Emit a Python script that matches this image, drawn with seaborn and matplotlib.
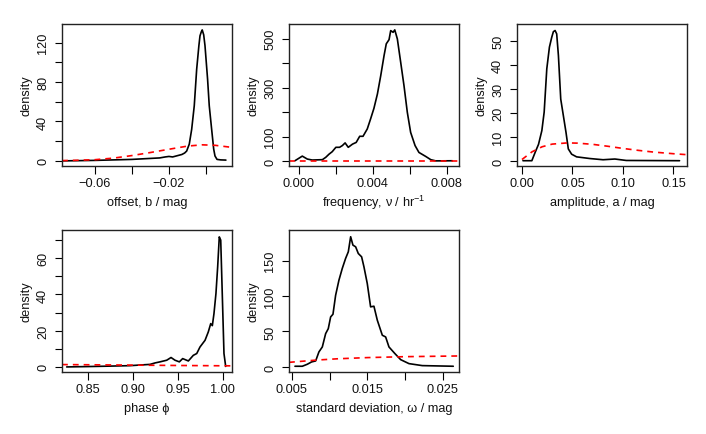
import numpy as np
import pandas as pd
import matplotlib
matplotlib.use("Agg")
import matplotlib.pyplot as plt
import seaborn as sns

# ---------------- data ----------------
# offset b
off_x = [-0.078, -0.07, -0.06, -0.05, -0.04, -0.035, -0.03, -0.025, -0.022, -0.02, -0.018,
         -0.015, -0.013, -0.0115, -0.0104, -0.009, -0.0077, -0.0063, -0.005, -0.0038,
         -0.0032, -0.0025, -0.002, -0.0012, -0.0005, 0.0009, 0.0018, 0.0031, 0.0042,
         0.0049, 0.006, 0.008, 0.0108]
off_y = [0, 0.2, 0.5, 1.0, 1.5, 2.0, 2.5, 3.0, 4.0, 4.5, 4.0, 5.5, 6.5, 8, 10, 17, 32, 56,
         93, 117, 127, 131, 133, 128, 117, 83, 56, 32, 12, 5, 1.5, 1.0, 0.8]
off_px = [-0.0778, -0.07, -0.06, -0.05, -0.04, -0.03, -0.02, -0.01, -0.002, 0.005, 0.0141]
off_py = [0.3, 0.6, 1.2, 2.8, 5.4, 8.5, 11.8, 15.0, 16.3, 15.8, 13.7]

# frequency nu
frq_x = [-0.00022, 0.00018, 0.00045, 0.00072, 0.00127, 0.00145, 0.00163, 0.0018, 0.002,
         0.0022, 0.00235, 0.0025, 0.00267, 0.0029, 0.0031, 0.00329, 0.00347, 0.0037,
         0.00388, 0.00406, 0.00425, 0.00443, 0.00461, 0.00473, 0.00488, 0.00497, 0.0051,
         0.00519, 0.00533, 0.00551, 0.00569, 0.00587, 0.00605, 0.00629, 0.0065, 0.00686,
         0.00714, 0.00741, 0.00831]
frq_y = [1, 20, 8, 4, 5.5, 15, 28, 38, 56, 56, 63, 74, 56, 69, 76, 101, 101, 131, 172, 215,
         274, 349, 431, 479, 496, 533, 526, 536, 499, 404, 308, 199, 117, 63, 35, 19, 5.5,
         0.5, 1]
frq_px = [-0.00054, 0.002, 0.004, 0.006, 0.00867]
frq_py = [1.2, 1.2, 1.2, 1.2, 1.2]

# amplitude a
amp_x = [0.001, 0.0098, 0.0131, 0.0164, 0.0197, 0.022, 0.0246, 0.0272, 0.0295, 0.0311,
         0.0328, 0.0344, 0.0361, 0.0384, 0.041, 0.0436, 0.0459, 0.0492, 0.0541, 0.0673,
         0.0803, 0.092, 0.1033, 0.156]
amp_y = [0.1, 0.1, 3.6, 6.9, 12.6, 20.3, 38.3, 47.3, 51.4, 53.7, 54.2, 52.8, 43.8, 25.7,
         18.8, 11.9, 5.0, 2.8, 1.7, 1.0, 0.5, 0.8, 0.2, 0.1]
amp_px = [0.0, 0.01, 0.02, 0.03, 0.045, 0.055, 0.07, 0.085, 0.1, 0.115, 0.13, 0.15, 0.1634]
amp_py = [0.6, 3.8, 5.9, 7.0, 7.5, 7.4, 6.9, 6.1, 5.2, 4.4, 3.7, 3.0, 2.6]

# phase phi
phs_x = [0.8268, 0.85, 0.87, 0.897, 0.9192, 0.9247, 0.9303, 0.9377, 0.9425, 0.9469,
         0.9517, 0.9554, 0.9617, 0.9672, 0.971, 0.9746, 0.9802, 0.9838, 0.9865, 0.9883,
         0.9901, 0.9923, 0.9942, 0.996, 0.9976, 0.9993, 1.0012, 1.0031]
phs_y = [0.0, 0.2, 0.4, 0.7, 1.4, 2.2, 2.8, 3.7, 5.2, 3.7, 2.8, 4.6, 3.3, 6.4, 7.4, 11,
         14.7, 19.3, 23.9, 22.8, 29.4, 40.5, 55.2, 71.8, 70, 40.5, 7.4, 0.3]
phs_px = [0.8216, 0.85, 0.9, 0.95, 1.0101]
phs_py = [1.3, 1.2, 1.0, 0.8, 0.6]

# standard deviation omega
sd_x = [0.00541, 0.00638, 0.00704, 0.00761, 0.00815, 0.00858, 0.00903, 0.00947, 0.00982,
        0.01013, 0.01044, 0.01079, 0.01123, 0.01167, 0.01211, 0.01247, 0.01278, 0.01308,
        0.01344, 0.01379, 0.01423, 0.01454, 0.01498, 0.01542, 0.01586, 0.01631, 0.01697,
        0.01741, 0.01785, 0.01864, 0.0194, 0.0205, 0.02226, 0.02636]
sd_y = [1, 1, 3.8, 7.1, 8.5, 21.2, 28.2, 47, 54, 70.5, 74.3, 101, 122.3, 138.8, 152.9,
        162.3, 183.5, 171.7, 169.3, 159.9, 155.2, 141.1, 117.5, 84.7, 85.6, 65.8, 44.7,
        42.3, 28.2, 18.8, 10.3, 4.7, 1.9, 1.0]
sd_px = [0.00462, 0.008, 0.011, 0.015, 0.02, 0.02712]
sd_py = [6.5, 9.5, 11.5, 13.2, 14.5, 15.5]

panels = [
    dict(px=off_x, py=off_y, qx=off_px, qy=off_py, xlabel="offset, b / mag",
         xlim=(-0.0778, 0.0141), ylim=(-5.2, 139),
         xt=[-0.06, -0.04, -0.02, 0.0], xtl=["\u22120.06", "", "\u22120.02", ""],
         yt=[0, 20, 40, 60, 80, 100, 120], ytl=["0", "", "40", "", "80", "", "120"],
         pos=(62, 25)),
    dict(px=frq_x, py=frq_y, qx=frq_px, qy=frq_py,
         xlabel="frequency, \u03bd / hr$^{-1}$",
         xlim=(-0.00054, 0.00867), ylim=(-20.4, 560),
         xt=[0, 0.002, 0.004, 0.006, 0.008], xtl=["0.000", "", "0.004", "", "0.008"],
         yt=[0, 100, 200, 300, 400, 500], ytl=["0", "100", "", "300", "", "500"],
         pos=(289, 25)),
    dict(px=amp_x, py=amp_y, qx=amp_px, qy=amp_py, xlabel="amplitude, a / mag",
         xlim=(-0.0049, 0.1634), ylim=(-2.1, 56.9),
         xt=[0, 0.05, 0.10, 0.15], xtl=["0.00", "0.05", "0.10", "0.15"],
         yt=[0, 10, 20, 30, 40, 50], ytl=["0", "10", "20", "30", "40", "50"],
         pos=(517, 25)),
    dict(px=phs_x, py=phs_y, qx=phs_px, qy=phs_py, xlabel="phase \u03d5",
         xlim=(0.8216, 1.0101), ylim=(-2.8, 75.6),
         xt=[0.85, 0.90, 0.95, 1.00], xtl=["0.85", "0.90", "0.95", "1.00"],
         yt=[0, 10, 20, 30, 40, 50, 60, 70], ytl=["0", "", "20", "", "40", "", "60", ""],
         pos=(62, 231)),
    dict(px=sd_x, py=sd_y, qx=sd_px, qy=sd_py, xlabel="standard deviation, \u03c9 / mag",
         xlim=(0.00462, 0.02712), ylim=(-7.1, 193),
         xt=[0.005, 0.010, 0.015, 0.020, 0.025],
         xtl=["0.005", "", "0.015", "", "0.025"],
         yt=[0, 50, 100, 150], ytl=["0", "50", "100", "150"],
         pos=(289, 231)),
]

# ---------------- plotting ----------------
sns.set_style("ticks")
plt.rcParams['font.family'] = ['Liberation Sans', 'DejaVu Sans']
plt.rcParams['font.stretch'] = 'normal'
plt.rcParams['mathtext.fontset'] = 'custom'
plt.rcParams['mathtext.rm'] = 'Liberation Sans'
plt.rcParams['mathtext.it'] = 'Liberation Sans'
FS = 9.2

W, H = 706, 435
fig = plt.figure(figsize=(W / 100, H / 100), dpi=100)
fig.patch.set_facecolor("white")

pw, ph = 170, 142
for p in panels:
    x0, y0 = p["pos"]
    ax = fig.add_axes([x0 / W, 1 - (y0 + ph) / H, pw / W, ph / H])
    sns.lineplot(x=p["px"], y=p["py"], ax=ax, color="black", linewidth=1.2,
                 sort=False, estimator=None)
    sns.lineplot(x=p["qx"], y=p["qy"], ax=ax, color="#ff0000", linewidth=1.2,
                 linestyle=(0, (3.5, 3.0)), sort=False, estimator=None)
    ax.set_xlim(*p["xlim"])
    ax.set_ylim(*p["ylim"])
    ax.set_xticks(p["xt"])
    ax.set_xticklabels(p["xtl"])
    ax.set_yticks(p["yt"])
    ax.set_yticklabels(p["ytl"], rotation=90, va="center")
    ax.tick_params(axis="both", direction="out", length=5.4, width=0.8,
                   color="black", labelsize=FS, labelcolor="#111111", pad=2.6)
    ax.tick_params(axis="y", pad=3.8)
    for s in ax.spines.values():
        s.set_visible(True)
        s.set_color("#222222")
        s.set_linewidth(1.0)
    ax.set_xlabel(p["xlabel"], fontsize=FS, color="#111111")
    ax.set_ylabel("density", fontsize=FS, color="#111111")
    ax.xaxis.set_label_coords(0.5, (167 - 203) / ph)
    ax.xaxis.label.set_va("center")
    ax.yaxis.set_label_coords((27 - 62) / pw, 0.5)
    ax.yaxis.label.set_va("center")
    ax.grid(False)
    ax.set_facecolor("white")

fig.savefig("out.png", dpi=100, facecolor="white")
